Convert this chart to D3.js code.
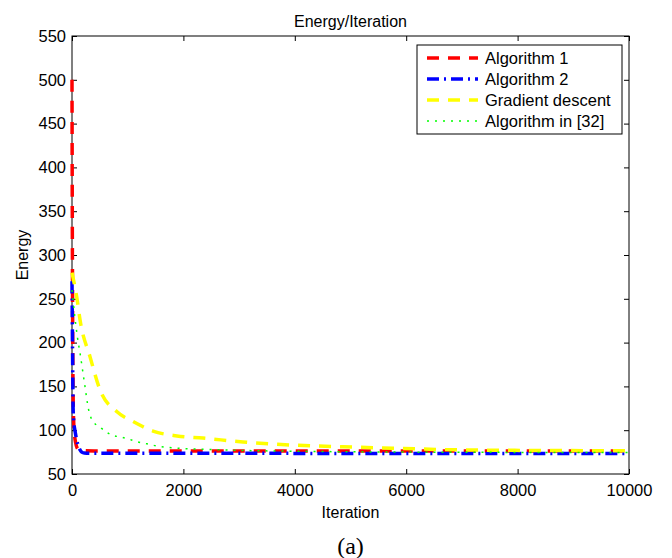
<!DOCTYPE html>
<meta charset="utf-8">
<html>
<head>
	<script src="https://d3js.org/d3.v7.min.js"></script>
	<style>
		body { margin: 0; background: #fff; }
		text { font-family: "Liberation Sans", Arial, sans-serif; fill: #000; }
	</style>
</head>
<body>
<div id="chart"></div>
<script>

// values: [iteration, energy]
var alg1 = [[0,500],[5,350],[10,250],[15,180],[20,140],[30,110],[45,95],[65,86],[90,80],[130,77.5],[200,76.6],[400,76.3],[10000,76.3]];
var alg2 = [[0,270],[10,190],[20,125],[35,108],[55,99],[80,90],[108,83],[140,78],[175,75],[220,74],[400,73.6],[10000,73.5]];
var gradDescent = [[0,280],[90,250],[144,226],[323,184],[503,146],[808,121],[1095,110],[1454,99],[1885,93.5],[2352,91],[3070,86.5],[3968,83],[4865,81],[5763,79.5],[7000,77.5],[10000,76.5]];
var alg32 = [[0,260],[50,230],[100,205],[144,188],[233,150],[293,125],[354,112.5],[533,102],[713,94.5],[892,92],[1011,90],[1162,87],[1341,84.5],[1521,82],[1700,80.5],[1939,79.3],[2500,78],[3000,77],[4000,76],[6000,75],[10000,74.5]];

var seriesNames = ["Algorithm 1", "Algorithm 2", "Gradient descent", "Algorithm in [32]"];
var xTicks = [0, 2000, 4000, 6000, 8000, 10000];
var yTicks = [50, 100, 150, 200, 250, 300, 350, 400, 450, 500, 550];

var width = 672, height = 558;
var margin = {top: 36, right: 43, bottom: 84, left: 72};

var svg = d3.select("#chart")
  .append("svg")
    .attr("width", width)
    .attr("height", height);

var x = d3.scaleLinear()
  .domain([0, 10000])
  .range([margin.left, width - margin.right]);

var y = d3.scaleLinear()
  .domain([50, 550])
  .range([height - margin.bottom, margin.top]);

// axes, ticks inside like matlab
svg.append("g")
  .attr("transform", "translate(0," + y(50) + ")")
  .call(d3.axisBottom(x).tickValues(xTicks).tickFormat(d3.format("d")).tickSizeInner(-5).tickSizeOuter(0).tickPadding(10))
  .call(function(g) { g.select(".domain").remove(); });

svg.append("g")
  .attr("transform", "translate(0," + y(550) + ")")
  .call(d3.axisTop(x).tickValues(xTicks).tickFormat("").tickSizeInner(-5).tickSizeOuter(0))
  .call(function(g) { g.select(".domain").remove(); });

svg.append("g")
  .attr("transform", "translate(" + x(0) + ",0)")
  .call(d3.axisLeft(y).tickValues(yTicks).tickSizeInner(-5).tickSizeOuter(0).tickPadding(6))
  .call(function(g) { g.select(".domain").remove(); });

svg.append("g")
  .attr("transform", "translate(" + x(10000) + ",0)")
  .call(d3.axisRight(y).tickValues(yTicks).tickFormat("").tickSizeInner(-5).tickSizeOuter(0))
  .call(function(g) { g.select(".domain").remove(); });

svg.selectAll(".tick text")
  .style("font-size", "16.5px")
  .style("font-family", "'Liberation Sans', Arial, sans-serif");
svg.selectAll(".tick line").attr("stroke", "#000");

svg.append("rect")
  .attr("x", x(0))
  .attr("y", y(550))
  .attr("width", x(10000) - x(0))
  .attr("height", y(50) - y(550))
  .attr("fill", "none")
  .attr("stroke", "#000")
  .attr("stroke-width", 1);

// lines
svg.append("clipPath").attr("id", "clip")
  .append("rect")
  .attr("x", x(0) - 3).attr("y", y(550))
  .attr("width", x(10000) - x(0) + 3).attr("height", y(50) - y(550));

var styles = [
  {data: alg1, color: "#ff0000", dash: "12,9", w: 3.5},
  {data: alg2, color: "#0000ff", dash: "12,5,2,5", w: 3.5},
  {data: gradDescent, color: "#ffff00", dash: "12,9", w: 3.5},
  {data: alg32, color: "#00ff00", dash: "2,6", w: 1.5}
];

var line = d3.line()
  .x(function(d) { return x(d[0]); })
  .y(function(d) { return y(d[1]); })
  .curve(d3.curveMonotoneX);

var plot = svg.append("g").attr("clip-path", "url(#clip)");
styles.forEach(function(s) {
  plot.append("path")
    .datum(s.data)
    .attr("d", line)
    .attr("fill", "none")
    .attr("stroke", s.color)
    .attr("stroke-width", s.w)
    .attr("stroke-dasharray", s.dash);
});

// legend
var lg = svg.append("g");
lg.append("rect")
  .attr("x", 417).attr("y", 45)
  .attr("width", 205).attr("height", 89)
  .attr("fill", "#fff").attr("stroke", "#000").attr("stroke-width", 1);

styles.forEach(function(s, i) {
  var ly = 58 + i * 21;
  lg.append("line")
    .attr("x1", 427).attr("x2", 478)
    .attr("y1", ly).attr("y2", ly)
    .attr("stroke", s.color)
    .attr("stroke-width", s.w)
    .attr("stroke-dasharray", s.dash);
  lg.append("text")
    .attr("x", 485).attr("y", ly)
    .attr("dy", "0.35em")
    .style("font-size", "16.5px")
    .text(seriesNames[i]);
});

// titles
svg.append("text")
  .attr("x", (x(0) + x(10000)) / 2).attr("y", 21)
  .attr("dy", "0.35em")
  .attr("text-anchor", "middle")
  .style("font-size", "16px")
  .text("Energy/Iteration");

svg.append("text")
  .attr("x", (x(0) + x(10000)) / 2).attr("y", 512)
  .attr("dy", "0.35em")
  .attr("text-anchor", "middle")
  .style("font-size", "16px")
  .text("Iteration");

svg.append("text")
  .attr("transform", "translate(22," + (y(50) + y(550)) / 2 + ") rotate(-90)")
  .attr("dy", "0.35em")
  .attr("text-anchor", "middle")
  .style("font-size", "16px")
  .text("Energy");

svg.append("text")
  .attr("x", (x(0) + x(10000)) / 2).attr("y", 554)
  .attr("text-anchor", "middle")
  .style("font-family", "'Liberation Serif', 'DejaVu Serif', serif")
  .style("font-size", "24px")
  .text("(a)");

</script>
</body>
</html>
